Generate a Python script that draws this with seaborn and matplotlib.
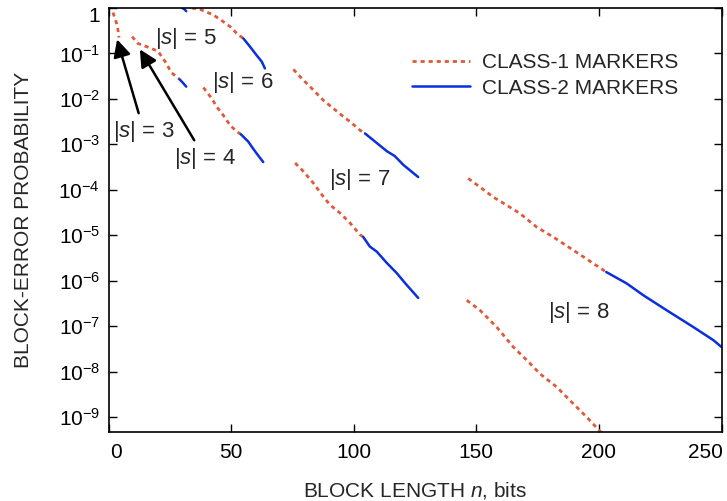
import numpy as np
import pandas as pd
import seaborn as sns
import matplotlib.pyplot as plt
from matplotlib import transforms

# block length n and log10(block-error probability)
# each curve: class-1 part (dashed red) then class-2 part (solid blue)
s3_n1 = [1.8, 2.6, 3.2, 3.8, 4.3]
s3_lp1 = [-0.10, -0.22, -0.32, -0.46, -0.65]

top4_n2 = [30.0, 30.8, 31.7]
top4_lp2 = [0.0, -0.02, -0.07]

a_n1 = [9.6, 12.0, 16.0, 20.2, 23.6, 25.6, 27.7, 29.0]
a_lp1 = [-0.63, -0.78, -0.86, -0.95, -1.22, -1.42, -1.51, -1.57]
a_n2 = [29.0, 30.4, 31.7]
a_lp2 = [-1.57, -1.65, -1.73]

b_n1 = [34.0, 37.3, 42.7, 46.8, 49.6, 52.3, 55.0]
b_lp1 = [0.0, -0.03, -0.15, -0.30, -0.41, -0.56, -0.67]
b_n2 = [55.0, 57.7, 60.4, 62.5, 63.8]
b_lp2 = [-0.67, -0.85, -1.04, -1.18, -1.33]

c_n1 = [38.7, 42.1, 44.1, 46.8, 49.6, 52.3, 54.0]
c_lp1 = [-1.75, -1.99, -2.17, -2.36, -2.58, -2.72, -2.78]
c_n2 = [54.0, 57.0, 58.4, 60.4, 63.1]
c_lp2 = [-2.78, -2.94, -3.05, -3.20, -3.39]

d_n1 = [75.4, 78.8, 82.9, 87.6, 91.7, 95.1, 98.5, 102.6, 104.6]
d_lp1 = [-1.35, -1.55, -1.77, -2.03, -2.21, -2.36, -2.50, -2.69, -2.76]
d_n2 = [104.6, 109.4, 113.5, 116.8, 120.2, 126.3]
d_lp2 = [-2.76, -2.97, -3.15, -3.26, -3.45, -3.72]

e_n1 = [76.1, 79.4, 83.5, 87.6, 90.3, 94.4, 98.5, 102.6, 103.9]
e_lp1 = [-3.41, -3.59, -3.85, -4.15, -4.33, -4.51, -4.73, -4.99, -5.04]
e_n2 = [103.9, 106.6, 109.4, 113.5, 117.5, 120.9, 126.3]
e_lp2 = [-5.04, -5.25, -5.36, -5.61, -5.83, -6.05, -6.38]

f_n1 = [146.7, 151.5, 156.9, 162.4, 167.8, 174.6, 181.4, 189.6, 197.7, 203.0]
f_lp1 = [-3.75, -3.94, -4.16, -4.34, -4.52, -4.82, -5.04, -5.33, -5.62, -5.81]
f_n2 = [203.0, 211.3, 218.1, 227.6, 238.5, 246.7, 250.0]
f_lp2 = [-5.81, -6.06, -6.32, -6.65, -7.02, -7.31, -7.46]

g_n1 = [146.1, 151.5, 158.3, 165.1, 170.6, 176.0, 182.8, 189.6, 195.0, 200.2, 202.0]
g_lp1 = [-6.43, -6.65, -7.02, -7.46, -7.75, -8.05, -8.34, -8.71, -9.00, -9.30, -9.40]

class1 = [(s3_n1, s3_lp1), (a_n1, a_lp1), (b_n1, b_lp1), (c_n1, c_lp1),
          (d_n1, d_lp1), (e_n1, e_lp1), (f_n1, f_lp1), (g_n1, g_lp1)]
class2 = [(top4_n2, top4_lp2), (a_n2, a_lp2), (b_n2, b_lp2), (c_n2, c_lp2),
          (d_n2, d_lp2), (e_n2, e_lp2), (f_n2, f_lp2)]

# |s| labels: text position, arrow tip (None = no arrow)
s_labels = ["3", "4", "5", "6", "7", "8"]
s_text_n = [14.5, 39.4, 31.6, 54.9, 102.6, 191.9]
s_text_lp = [-2.72, -3.31, -0.67, -1.64, -3.78, -6.71]
s_tip = [(3.5, -0.69), (12.8, -0.91), None, None, None, None]

x_ticks = [0, 50, 100, 150, 200, 250]
y_exps = list(range(0, -10, -1))

RED = "#df5a3b"
BLUE = "#0a2fdc"
FS = 15

sns.set_theme(style="ticks")
plt.rcParams["font.family"] = ["Liberation Sans", "DejaVu Sans"]
plt.rcParams["mathtext.fontset"] = "custom"
plt.rcParams["mathtext.rm"] = "Liberation Sans"
plt.rcParams["mathtext.it"] = "Liberation Sans:italic"
plt.rcParams["mathtext.default"] = "regular"

fig = plt.figure(figsize=(7.27, 5.01), dpi=100)
ax = fig.add_axes([108.5 / 727, 69 / 501, 613 / 727, 424 / 501])


def seg(n, lp):
    return pd.DataFrame({"n": n, "p": 10.0 ** np.array(lp)})


for i, (n, lp) in enumerate(class1):
    sns.lineplot(data=seg(n, lp), x="n", y="p", ax=ax, color=RED, lw=2.0,
                 linestyle=(0, (1.5, 1.4)), label="CLASS-1 MARKERS" if i == 0 else None)
for i, (n, lp) in enumerate(class2):
    sns.lineplot(data=seg(n, lp), x="n", y="p", ax=ax, color=BLUE, lw=1.8,
                 label="CLASS-2 MARKERS" if i == 0 else None)

ax.set_yscale("log")
ax.set_xlim(0, 250)
ax.set_ylim(10 ** -9.33, 1)

ax.set_xticks(x_ticks)
ax.set_xticklabels([str(v) for v in x_ticks])
ax.set_yticks([10.0 ** e for e in y_exps])
ax.set_yticklabels(["1" if e == 0 else "$10^{%d}$" % e for e in y_exps])
ax.minorticks_off()
ax.tick_params(direction="in", length=6, width=1, top=True, right=True,
               labelsize=FS, colors="black")
ax.tick_params(axis="x", pad=8)
ax.tick_params(axis="y", pad=6)
for sp in ax.spines.values():
    sp.set_visible(True)
    sp.set_color("black")
    sp.set_linewidth(1.2)

# nudge edge tick labels inward as in the original
xl = ax.get_xticklabels()
xl[0].set_transform(xl[0].get_transform() + transforms.ScaledTranslation(0.075, 0, fig.dpi_scale_trans))
xl[-1].set_transform(xl[-1].get_transform() + transforms.ScaledTranslation(-0.16, 0, fig.dpi_scale_trans))
yl = ax.get_yticklabels()
yl[0].set_transform(yl[0].get_transform() + transforms.ScaledTranslation(0, -0.06, fig.dpi_scale_trans))

ax.set_xlabel("BLOCK LENGTH $\\it{n}$, bits", fontsize=FS, labelpad=13)
ax.set_ylabel("BLOCK-ERROR PROBABILITY", fontsize=FS, labelpad=18)

for lab, tn, tlp, tip in zip(s_labels, s_text_n, s_text_lp, s_tip):
    txt = "$|\\it{s}|$ = " + lab
    if tip is None:
        ax.text(tn, 10 ** tlp, txt, fontsize=16, ha="center", va="center")
    else:
        ax.annotate(txt, xy=(tip[0], 10 ** tip[1]), xytext=(tn, 10 ** tlp),
                    fontsize=16, ha="center", va="center",
                    arrowprops=dict(arrowstyle="-|>", color="black", lw=1.8,
                                    mutation_scale=26, shrinkA=2, shrinkB=0))

ax.legend(loc="upper left", bbox_to_anchor=(0.495, 0.893), frameon=False,
          fontsize=FS, handlelength=2.8, handletextpad=0.55, labelspacing=0.3,
          borderpad=0, borderaxespad=0)

fig.savefig("out.png", dpi=100)
